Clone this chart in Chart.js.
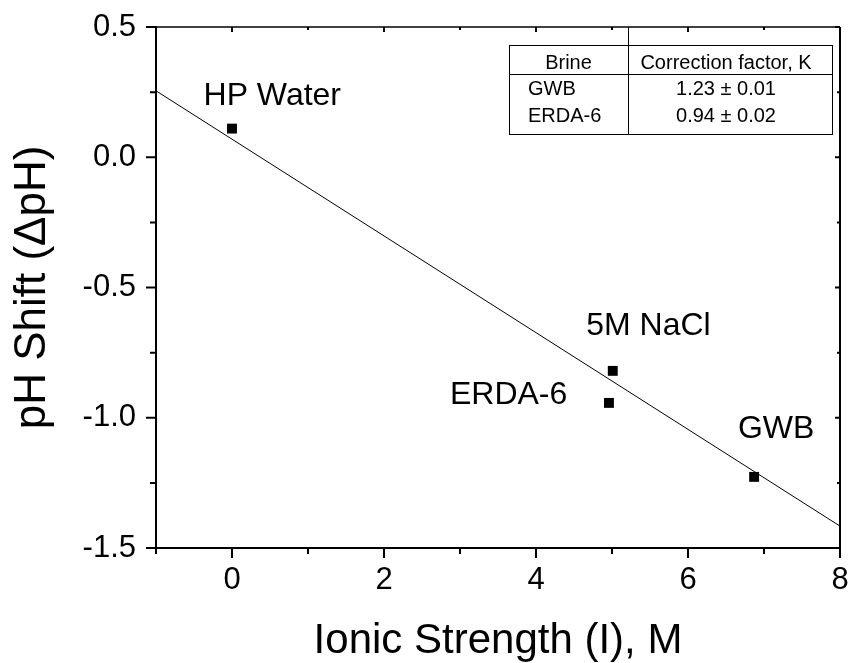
<!DOCTYPE html>
<html>
<head>
<meta charset="utf-8">
<script src="https://cdn.jsdelivr.net/npm/chart.js@4.4.1/dist/chart.umd.min.js"></script>
<style>
  body { margin: 0; background: #fff; }
  #chart { display: block; }
</style>
</head>
<body>
<canvas id="chart" width="849" height="663"></canvas>
<script>
const brines = ["HP Water", "5M NaCl", "ERDA-6", "GWB"]
const ionicStrength = [0.0, 5.01, 4.96, 6.87]
const phShift = [0.11, -0.82, -0.943, -1.227]

// where each brine name sits (centre x, baseline y), in data units
const labelX = [0.53, 5.48, 3.64, 7.16]
const labelY = [0.20, -0.682, -0.947, -1.078]

const fitX = [-1, 8]
const fitY = [0.255, -1.416]

const xMajor = [0, 2, 4, 6, 8]
const xMinor = [-1, 1, 3, 5, 7]
const yMajor = [0.5, 0.0, -0.5, -1.0, -1.5]
const yMinor = [0.25, -0.25, -0.75, -1.25]

const tableHead = ["Brine", "Correction factor, K"]
const tableBrine = ["GWB", "ERDA-6"]
const tableK = ["1.23 ± 0.01", "0.94 ± 0.02"]

const family = "'Liberation Sans', Arial, sans-serif"

const frame = {
  id: "frame",
  afterDraw(chart) {
    const { ctx, chartArea: a, scales: { x, y } } = chart
    ctx.save()
    ctx.strokeStyle = "#000"
    ctx.fillStyle = "#000"

    // top and right axes
    ctx.lineWidth = 1.5
    ctx.beginPath()
    ctx.moveTo(a.left, a.top)
    ctx.lineTo(a.right, a.top)
    ctx.stroke()
    ctx.lineWidth = 2
    ctx.beginPath()
    ctx.moveTo(a.right, a.top)
    ctx.lineTo(a.right, a.bottom + 1)
    ctx.stroke()

    const xTicks = (vals, out, inside) => {
      vals.forEach(v => {
        const px = x.getPixelForValue(v)
        ctx.beginPath()
        ctx.moveTo(px, a.bottom)
        ctx.lineTo(px, a.bottom + out)
        ctx.moveTo(px, a.top)
        ctx.lineTo(px, a.top + inside)
        ctx.stroke()
      })
    }
    const yTicks = (vals, out, inside) => {
      vals.forEach(v => {
        const py = y.getPixelForValue(v)
        ctx.beginPath()
        ctx.moveTo(a.left, py)
        ctx.lineTo(a.left - out, py)
        ctx.moveTo(a.right, py)
        ctx.lineTo(a.right - inside, py)
        ctx.stroke()
      })
    }
    ctx.lineWidth = 2
    xTicks(xMajor, 10, 5)
    xTicks(xMinor, 6, 3)
    yTicks(yMajor, 10, 5)
    yTicks(yMinor, 6, 3)

    // brine names next to the points
    ctx.font = "32px " + family
    ctx.textAlign = "center"
    ctx.textBaseline = "alphabetic"
    brines.forEach((name, i) => {
      ctx.fillText(name, x.getPixelForValue(labelX[i]), y.getPixelForValue(labelY[i]))
    })

    // correction factor table, top right corner
    const left = a.right - 331, right = a.right - 8
    const top = a.top + 18, bottom = a.top + 107
    const split = left + 119, headLine = top + 29
    ctx.lineWidth = 1
    ctx.strokeRect(left + 0.5, top + 0.5, right - left, bottom - top)
    ctx.beginPath()
    ctx.moveTo(left, headLine + 0.5)
    ctx.lineTo(right, headLine + 0.5)
    ctx.moveTo(split + 0.5, a.top)
    ctx.lineTo(split + 0.5, bottom)
    ctx.stroke()

    ctx.font = "20px " + family
    ctx.textAlign = "center"
    ctx.fillText(tableHead[0], (left + split) / 2, top + 24)
    ctx.fillText(tableHead[1], split + 98, top + 24)
    tableK.forEach((k, i) => ctx.fillText(k, split + 98, top + 50 + i * 27))
    ctx.textAlign = "left"
    tableBrine.forEach((b, i) => ctx.fillText(b, left + 19, top + 50 + i * 27))
    ctx.restore()
  }
}

const data = {
  datasets: [{
    label: "pH shift",
    data: ionicStrength.map((v, i) => ({ x: v, y: phShift[i] })),
    pointStyle: "rect",
    pointRadius: 7,
    backgroundColor: "#000",
    borderWidth: 0
  }, {
    label: "fit",
    data: fitX.map((v, i) => ({ x: v, y: fitY[i] })),
    showLine: true,
    borderColor: "#000",
    borderWidth: 1,
    pointRadius: 0
  }]
}

const config = {
  type: "scatter",
  data: data,
  options: {
    responsive: false,
    animation: false,
    devicePixelRatio: 1,
    layout: {
      padding: { top: 27, right: 9, left: 0, bottom: 0 }
    },
    scales: {
      x: {
        type: "linear",
        min: -1,
        max: 8,
        afterBuildTicks: s => { s.ticks = xMajor.map(v => ({ value: v })) },
        afterFit: s => {
          s.height = 115
          s.paddingLeft = 0
          s.paddingRight = 0
        },
        grid: { drawOnChartArea: false, drawTicks: false },
        border: { color: "#000", width: 2 },
        ticks: {
          color: "#000",
          padding: 14,
          font: { family: family, size: 31 },
          callback: v => String(v)
        },
        title: {
          display: true,
          text: "Ionic Strength (I), M",
          color: "#000",
          font: { family: family, size: 42, lineHeight: 1 },
          padding: { bottom: 1 }
        }
      },
      y: {
        type: "linear",
        min: -1.5,
        max: 0.5,
        afterBuildTicks: s => { s.ticks = yMajor.map(v => ({ value: v })) },
        afterFit: s => {
          s.width = 156
          s.paddingTop = 0
          s.paddingBottom = 0
        },
        grid: { drawOnChartArea: false, drawTicks: false },
        border: { color: "#000", width: 2 },
        ticks: {
          color: "#000",
          padding: 20,
          font: { family: family, size: 31 },
          callback: v => v.toFixed(1)
        },
        title: {
          display: true,
          text: "pH Shift (ΔpH)",
          color: "#000",
          font: { family: family, size: 44, lineHeight: 1 },
          padding: { top: 11 }
        }
      }
    },
    plugins: {
      legend: { display: false },
      tooltip: { enabled: false }
    }
  },
  plugins: [frame]
}

new Chart(document.querySelector("#chart"), config)
</script>
</body>
</html>
